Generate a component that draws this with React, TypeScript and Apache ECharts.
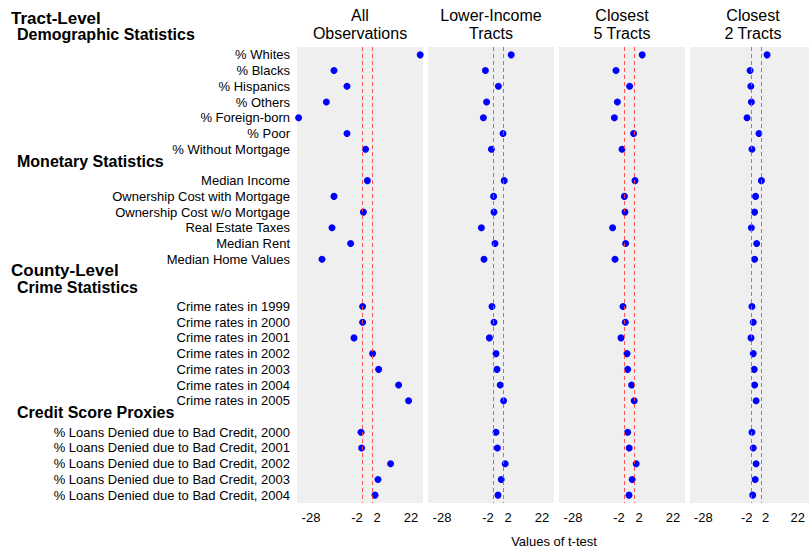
import React, { useEffect, useRef } from "react";
import * as echarts from "echarts";

// Row categories (blank entries are the gaps used by the section headers)
const categories: string[] = [
  "% Whites", "% Blacks", "% Hispanics", "% Others", "% Foreign-born", "% Poor", "% Without Mortgage",
  "",
  "Median Income", "Ownership Cost with Mortgage", "Ownership Cost w/o Mortgage", "Real Estate Taxes", "Median Rent", "Median Home Values",
  " ", "  ",
  "Crime rates in 1999", "Crime rates in 2000", "Crime rates in 2001", "Crime rates in 2002", "Crime rates in 2003", "Crime rates in 2004", "Crime rates in 2005",
  "   ",
  "% Loans Denied due to Bad Credit, 2000", "% Loans Denied due to Bad Credit, 2001", "% Loans Denied due to Bad Credit, 2002", "% Loans Denied due to Bad Credit, 2003", "% Loans Denied due to Bad Credit, 2004",
];

// Values per panel, one per non-blank category, in order
const allObservations = [26.6, -16.5, -10, -20.3, -34.2, -10, -0.7, 0.2, -16.5, -1.8, -17.5, -8.2, -22.5, -2.2, -2.2, -6.5, 2.8, 5.8, 15.8, 20.8, -3, -2.7, 11.8, 5.5, 4];
const lowerIncome = [6.6, -6.3, 0.2, -5.7, -7.3, 2.5, -3.3, 3.1, -2.2, -2, -8.3, -1.5, -7, -3, -2, -4.3, -1, -0.5, 1.1, 2.8, -1, -0.3, 3.6, 1.6, 0];
const closest5 = [6.6, -6.5, 0.3, -5.8, -7.3, 2.3, -3.5, 3, -2.3, -2, -8.2, -1.7, -7, -3, -1.8, -4, -1, -0.7, 1.3, 2.6, -0.7, 0.1, 3.6, 1.6, 0];
const closest2 = [5.8, -3.2, -2.8, -2.5, -4.8, 1.5, -2.2, 2.8, -0.3, -0.8, -2.5, 0.3, -0.8, -2.2, -1.5, -2.7, -1.5, -1, -0.8, 0, -2.2, -1.5, 0, -0.5, -1.8];

const panelTitles = ["All\nObservations", "Lower-Income\nTracts", "Closest\n5 Tracts", "Closest\n2 Tracts"];
const panelValues = [allObservations, lowerIncome, closest5, closest2];

const tickPositions = [-28, -5, 5, 22];
const tickLabels = ["-28", "-2", "2", "22"];
const refLines = [-2.5, 2.5];
const xMin = -35;
const xMax = 28;

const sectionHeaders = [
  { text: "Tract-Level", x: 11, y: 18, size: 17 },
  { text: "Demographic Statistics", x: 17, y: 34.5, size: 16 },
  { text: "Monetary Statistics", x: 17, y: 161, size: 16 },
  { text: "County-Level", x: 11, y: 270, size: 17 },
  { text: "Crime Statistics", x: 17, y: 287, size: 16 },
  { text: "Credit Score Proxies", x: 17, y: 412, size: 16 },
];

const FONT = "'Liberation Sans', Arial, Helvetica, sans-serif";

export default function App() {
  const ref = useRef<HTMLDivElement>(null);
  useEffect(() => {
    if (!ref.current) return;
    const chart = echarts.init(ref.current, undefined, { renderer: "svg" });

    const rowIdx: number[] = [];
    categories.forEach((c, i) => {
      if (c.trim() !== "") rowIdx.push(i);
    });

    const panelLeft = 297;
    const panelStep = 131;
    const panelWidth = 126;
    const top = 47;
    const height = 456;

    const grids = panelValues.map((_, i) => ({
      left: panelLeft + panelStep * i,
      top,
      width: panelWidth,
      height,
      show: true,
      backgroundColor: "#efefef",
      borderWidth: 0,
      containLabel: false,
    }));

    const xAxes = panelValues.map((_, i) => ({
      type: "value",
      gridIndex: i,
      min: xMin,
      max: xMax,
      axisLine: { show: false },
      axisTick: { show: false },
      splitLine: { show: false },
      axisLabel: {
        customValues: tickPositions,
        formatter: (v: number) => {
          const k = tickPositions.indexOf(v);
          return k >= 0 ? tickLabels[k] : "";
        },
        color: "#000",
        fontSize: 13,
        fontFamily: FONT,
        margin: 8,
      },
    }));

    const yAxes = panelValues.map((_, i) => ({
      type: "category",
      gridIndex: i,
      data: categories,
      inverse: true,
      axisLine: { show: false },
      axisTick: { show: false },
      splitLine: { show: false },
      axisLabel: {
        show: i === 0,
        interval: 0,
        color: "#000",
        fontSize: 13,
        fontFamily: FONT,
        margin: 7,
      },
    }));

    const series = panelValues.map((vals, i) => ({
      type: "scatter",
      xAxisIndex: i,
      yAxisIndex: i,
      symbol: "circle",
      symbolSize: 7,
      itemStyle: { color: "#0000ff", opacity: 1 },
      data: vals.map((v, k) => [v, rowIdx[k]]),
      markLine: {
        silent: true,
        symbol: "none",
        label: { show: false },
        lineStyle: { color: "#ff4545", type: [4, 3], width: 1, opacity: 0.9 },
        data: refLines.map((x) => ({ xAxis: x })),
      },
    }));

    const graphics: any[] = [];
    sectionHeaders.forEach((h) => {
      graphics.push({
        type: "text",
        x: h.x,
        y: h.y,
        style: {
          text: h.text,
          font: `bold ${h.size}px ${FONT}`,
          lineHeight: h.size - 2,
          fill: "#000",
          align: "left",
          verticalAlign: "middle",
        },
      });
    });
    panelTitles.forEach((t, i) => {
      graphics.push({
        type: "text",
        x: panelLeft + panelStep * i + panelWidth / 2,
        y: 24,
        style: {
          text: t,
          font: `16px ${FONT}`,
          lineHeight: 18,
          fill: "#000",
          align: "center",
          verticalAlign: "middle",
        },
      });
    });
    graphics.push({
      type: "text",
      x: 554,
      y: 541,
      style: {
        text: "Values of t-test",
        font: `13px ${FONT}`,
        fill: "#000",
        align: "center",
        verticalAlign: "middle",
      },
    });

    chart.setOption({
      animation: false,
      backgroundColor: "#ffffff",
      grid: grids,
      xAxis: xAxes,
      yAxis: yAxes,
      series,
      graphic: graphics,
    } as any);

    return () => chart.dispose();
  }, []);

  return (
    <div
      ref={ref}
      style={{ position: "fixed", left: 0, top: 0, width: 809, height: 551, overflow: "hidden" }}
    />
  );
}
